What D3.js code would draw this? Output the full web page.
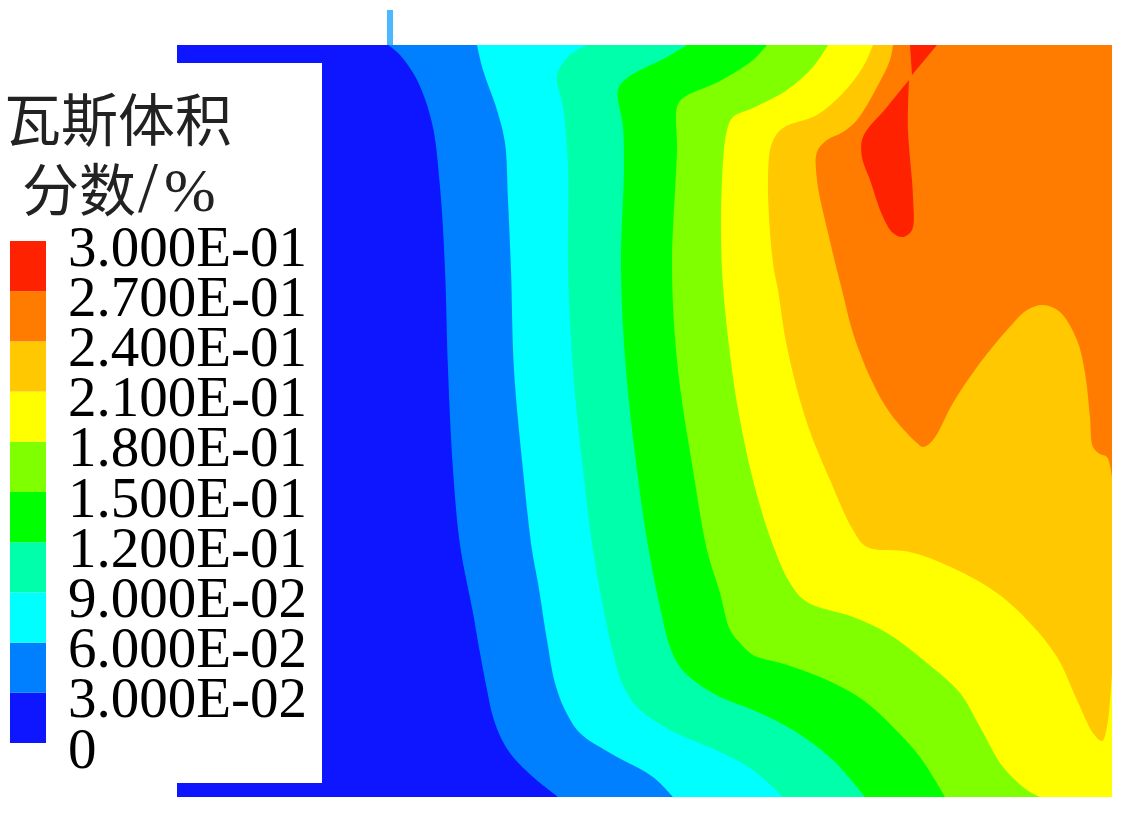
<!DOCTYPE html>
<html><head><meta charset="utf-8">
<script src="https://cdn.jsdelivr.net/npm/d3@7/dist/d3.min.js"></script>
<style>html,body{margin:0;padding:0;background:#fff;overflow:hidden}svg{display:block}</style>
</head><body><svg id="c" width="1125" height="815"></svg>
<script>
// Contour levels of gas volume fraction
const levels = [0,0.03,0.06,0.09,0.12,0.15,0.18,0.21,0.24,0.27,0.3];
const tickLabels = ["0","3.000E-02","6.000E-02","9.000E-02","1.200E-01","1.500E-01","1.800E-01","2.100E-01","2.400E-01","2.700E-01","3.000E-01"];
const bandColors = ["#0818ff","#0080ff","#00ffff","#00ffaa","#00ff00","#80ff00","#ffff00","#ffc800","#ff7c00","#ff2200"];
const titleLine1 = "瓦斯体积";
const titleLine2Cjk = "分数";
const titleSlash = "/";
const titlePercent = "%";

// Iso-lines, in model units (x across, y down)
const iso003 = [[66,0],[78,10],[95,35],[110,78],[118,142],[123,225],[126,325],[131,425],[138,500],[151,568],[158,608],[165,645],[171,672],[180,695],[191,712],[211,732],[236,752]];
const iso006 = [[155,0],[161,25],[175,65],[183,98],[186,155],[189,225],[192,325],[201,425],[210,505],[216,538],[225,595],[233,638],[243,665],[258,688],[288,708],[331,732],[351,752]];
const iso009 = [[265,0],[248,10],[235,30],[241,62],[246,122],[246,225],[251,325],[261,425],[271,505],[281,562],[291,608],[300,638],[315,662],[348,685],[398,707],[431,725],[461,752]];
const iso012 = [[365,0],[345,12],[305,33],[296,45],[301,82],[302,122],[299,225],[304,325],[315,425],[325,495],[338,562],[348,602],[358,622],[375,638],[398,652],[431,665],[471,685],[511,715],[543,752]];
const iso015 = [[445,0],[431,15],[398,36],[361,53],[355,62],[355,105],[350,225],[356,325],[371,425],[385,505],[398,548],[408,585],[418,598],[431,610],[465,620],[505,635],[541,655],[571,682],[598,712],[623,752]];
const iso018 = [[506,0],[491,22],[465,45],[431,63],[411,72],[405,85],[400,135],[400,225],[410,325],[418,375],[431,435],[448,492],[468,538],[485,557],[531,572],[565,588],[605,618],[638,648],[658,682],[681,722],[705,745],[718,752]];
const iso021 = [[551,0],[541,22],[521,48],[495,70],[461,83],[450,98],[446,135],[451,218],[456,245],[465,302],[485,378],[508,435],[531,485],[545,502],[588,507],[631,523],[675,548],[708,578],[735,612],[755,655],[771,688],[780,696],[785,682],[790,628]];
const iso024 = [[571,0],[568,15],[555,42],[535,75],[521,87],[505,95],[495,107],[495,135],[507,192],[520,245],[531,288],[548,332],[568,368],[595,398],[601,402],[611,395],[631,358],[655,322],[685,285],[705,265],[721,260],[738,267],[755,295],[763,328],[768,372],[771,402],[778,409],[785,412],[790,432]];
const iso027top = [[588,0],[615,0],[590,30]];
const iso027core = [[587,35],[565,62],[541,92],[540,112],[548,135],[561,172],[571,188],[581,192],[590,185],[591,152],[586,85],[587,35]];

const modelX = [0,790], modelY = [0,752];
const sideX = [-145,0];          // inlet/outlet ducts left of the chamber
const topDuctY = [0,18], bottomDuctY = [738,752];
const probeX = [65,71], probeY = [-35,0];

const svg = d3.select("#c");
const x = d3.scaleLinear().domain(modelX).range([322,1112]);
const y = d3.scaleLinear().domain(modelY).range([45,797]);
const legendY = d3.scaleLinear().domain([0,0.3]).range([743,241]);

const defs = svg.append("defs");
defs.append("filter").attr("id","soft").attr("x","-2%").attr("y","-2%").attr("width","104%").attr("height","104%")
  .append("feGaussianBlur").attr("stdDeviation",0.7);
defs.append("clipPath").attr("id","body").append("rect")
  .attr("x",x(0)).attr("y",y(0)).attr("width",x(790)-x(0)).attr("height",y(752)-y(0));

const plot = svg.append("g").attr("filter","url(#soft)");

// ducts
plot.append("rect").attr("x",x(probeX[0])).attr("y",y(probeY[0])).attr("width",x(probeX[1])-x(probeX[0])).attr("height",y(probeY[1])-y(probeY[0])).attr("fill","#4db8ff");
[topDuctY,bottomDuctY].forEach(d=>{
  plot.append("rect").attr("x",x(sideX[0])).attr("y",y(d[0])).attr("width",x(sideX[1])-x(sideX[0])+1).attr("height",y(d[1])-y(d[0])).attr("fill",bandColors[0]);
});

const curve = d3.line().x(d=>x(d[0])).y(d=>y(d[1])).curve(d3.curveCatmullRom.alpha(0.5));
const straight = d3.line().x(d=>x(d[0])).y(d=>y(d[1]));
const region = (iso,closure)=>curve(iso)+closure.map(p=>"L"+x(p[0])+","+y(p[1])).join("")+"Z";

const field = plot.append("g").attr("clip-path","url(#body)");
field.append("rect").attr("x",x(0)).attr("y",y(0)).attr("width",x(790)-x(0)).attr("height",y(752)-y(0)).attr("fill",bandColors[0]);
const fullCorner = [[790,752],[790,0]];
const topCorner = [[790,0]];
const regions = [
  [iso003,fullCorner],[iso006,fullCorner],[iso009,fullCorner],[iso012,fullCorner],
  [iso015,fullCorner],[iso018,fullCorner],[iso021,topCorner],[iso024,topCorner]
];
field.selectAll("path.band").data(regions).join("path").attr("class","band")
  .attr("d",d=>region(d[0],d[1])).attr("fill",(d,i)=>bandColors[i+1]);
field.append("path").attr("d",straight(iso027top)+"Z").attr("fill",bandColors[9]);
field.append("path").attr("d",curve(iso027core)+"Z").attr("fill",bandColors[9]);

// legend
const legend = svg.append("g");
legend.append("g").attr("filter","url(#soft)").selectAll("rect").data(bandColors).join("rect")
  .attr("x",10).attr("width",36)
  .attr("y",(d,i)=>legendY(levels[i+1]))
  .attr("height",(d,i)=>legendY(levels[i])-legendY(levels[i+1]))
  .attr("fill",d=>d);

const axis = d3.axisRight(legendY).tickValues(levels).tickSize(0).tickPadding(0)
  .tickFormat((d,i)=>tickLabels[i]);
const ag = svg.append("g").attr("transform","translate(68,0)").call(axis);
ag.select(".domain").remove();
ag.selectAll("text").attr("x",0).attr("dy",null).attr("y",24)
  .attr("font-family","'Liberation Serif',serif").attr("font-size",57).attr("fill","#000");

const cjk = "'Noto Sans CJK SC','Noto Sans CJK JP',sans-serif";
svg.append("text").attr("x",4).attr("y",141).attr("font-family",cjk).attr("font-size",57).attr("fill","#222").text(titleLine1);
const t2 = svg.append("text").attr("x",22).attr("y",211).attr("font-size",57).attr("fill","#222");
t2.append("tspan").attr("font-family",cjk).text(titleLine2Cjk);
t2.append("tspan").attr("font-family","'Liberation Serif',serif").attr("font-size",72).attr("dx",2).text(titleSlash);
t2.append("tspan").attr("font-family","'Liberation Serif',serif").attr("font-size",62).attr("dx",6).text(titlePercent);
</script></body></html>
